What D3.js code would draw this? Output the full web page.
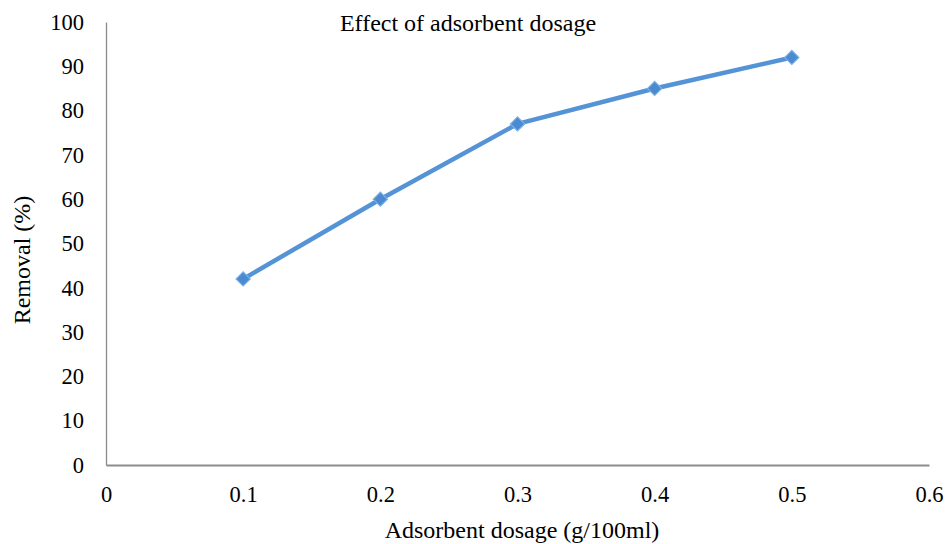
<!DOCTYPE html>
<html><head><meta charset="utf-8">
<script src="https://cdn.jsdelivr.net/npm/d3@7"></script>
<style>html,body{margin:0;padding:0;background:#fff;}svg{display:block;}</style>
</head><body>
<svg id="c" width="948" height="544"></svg>
<script>
const dosage = [0.1, 0.2, 0.3, 0.4, 0.5];
const removal = [42, 60, 77, 85, 92];
const xTicks = [0, 0.1, 0.2, 0.3, 0.4, 0.5, 0.6];
const yTicks = [0, 10, 20, 30, 40, 50, 60, 70, 80, 90, 100];
const title = "Effect of adsorbent dosage";
const xLabel = "Adsorbent dosage (g/100ml)";
const yLabel = "Removal (%)";

const svg = d3.select("#c");
const font = "'Liberation Serif','Times New Roman',serif";
const x = d3.scaleLinear().domain([0, 0.6]).range([106, 929]);
const y = d3.scaleLinear().domain([0, 100]).range([465, 22]);

// axes
const yAxis = svg.append("g").attr("transform","translate(106,0)")
  .call(d3.axisLeft(y).tickValues(yTicks).tickSize(0).tickPadding(22).tickFormat(d3.format("d")));
yAxis.select(".domain").attr("stroke","#8c8c8c").attr("stroke-width",1.3);
yAxis.selectAll("text").attr("font-family",font).attr("font-size",22.5).attr("fill","#000");

const xAxis = svg.append("g").attr("transform","translate(0,465)")
  .call(d3.axisBottom(x).tickValues(xTicks).tickSize(0).tickPadding(21).tickFormat(d => d === 0 ? "0" : d3.format(".1f")(d)));
xAxis.select(".domain").attr("stroke","#8c8c8c").attr("stroke-width",2.2);
xAxis.selectAll("text").attr("font-family",font).attr("font-size",22.5).attr("fill","#000");

// title & labels
svg.append("text").attr("x",468).attr("y",31).attr("text-anchor","middle")
  .attr("font-family",font).attr("font-size",24).text(title);
svg.append("text").attr("x",522).attr("y",538).attr("text-anchor","middle")
  .attr("font-family",font).attr("font-size",24).text(xLabel);
svg.append("text").attr("transform","translate(30,260) rotate(-90)").attr("text-anchor","middle")
  .attr("font-family",font).attr("font-size",24).text(yLabel);

// line
const data = dosage.map((d,i)=>({x:d,y:removal[i]}));
svg.append("path").datum(data)
  .attr("d", d3.line().x(d=>x(d.x)).y(d=>y(d.y)))
  .attr("fill","none").attr("stroke","#5393d6").attr("stroke-width",4.5).attr("stroke-linejoin","round");
svg.selectAll(".m").data(data).enter().append("path")
  .attr("transform", d=>`translate(${x(d.x)},${y(d.y)}) rotate(45)`)
  .attr("d", d3.symbol().type(d3.symbolSquare).size(100))
  .attr("fill","#4a8ad0").attr("stroke","#7ab0e6").attr("stroke-width",1.2);
</script>
</body></html>
